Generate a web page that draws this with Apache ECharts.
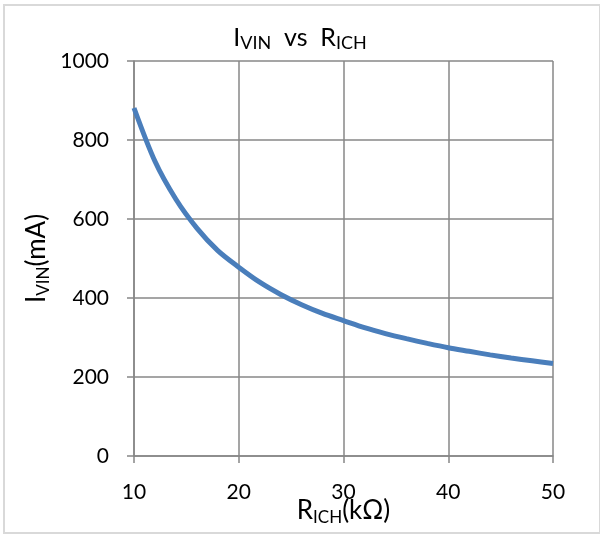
<!DOCTYPE html>
<html>
<head>
<meta charset="utf-8">
<script src="https://cdn.jsdelivr.net/npm/echarts@6/dist/echarts.min.js"></script>
<style>
html, body { margin: 0; padding: 0; background: #fff; }
#main { width: 600px; height: 538px; }
</style>
</head>
<body>
<div id="main"></div>
<script>
// R_ICH (kΩ) vs I_VIN (mA)
var rich = [10, 12, 14, 16, 18, 20, 22, 24, 26, 28, 30, 32, 34, 36, 38, 40, 42, 44, 46, 48, 50];
var ivin = [881, 746, 650, 577, 520, 478, 440, 409, 383, 361, 343, 325, 310, 297, 285, 274, 265, 256, 248, 241, 234];
var yTicks = [0, 200, 400, 600, 800, 1000];

var dom = document.getElementById("main");
var myChart = echarts.init(dom);
var fnt = 'Lato';
var gridCol = '#878787';

var nameRich = {
    n: { fontSize: 26, fontFamily: fnt, color: '#000', lineHeight: 30 },
    s: { fontSize: 17, fontFamily: fnt, color: '#000', lineHeight: 30, verticalAlign: 'bottom' }
};

var points = [];
for (var i = 0; i < rich.length; i++) {
    points.push([rich[i], ivin[i]]);
}

option = {
    animation: false,
    backgroundColor: '#fff',
    title: {
        text: '{n|I}{s|VIN}{n|  vs  R}{s|ICH}',
        left: 'center',
        top: 19,
        textStyle: {
            fontSize: 25,
            fontFamily: fnt,
            fontWeight: 'normal',
            color: '#000',
            rich: {
                n: { fontSize: 25, fontFamily: fnt, color: '#000', lineHeight: 28 },
                s: { fontSize: 18, fontFamily: fnt, color: '#000', lineHeight: 28, verticalAlign: 'bottom' }
            }
        }
    },
    graphic: [{
        type: 'rect',
        shape: { x: 4, y: 5, width: 596, height: 528 },
        style: { fill: 'none', stroke: '#d9d9d9', lineWidth: 2 },
        silent: true
    }],
    grid: {
        left: 134,
        right: 47,
        top: 61,
        bottom: 82,
        containLabel: false,
        outerBoundsMode: 'none'
    },
    xAxis: {
        type: 'value',
        min: 10,
        max: 50,
        interval: 10,
        name: '{n|R}{s|ICH}{n|(kΩ)}',
        nameLocation: 'middle',
        nameGap: 40,
        nameMoveOverlap: false,
        nameTextStyle: { fontSize: 26, fontFamily: fnt, color: '#000', rich: nameRich },
        axisLine: { show: true, lineStyle: { color: gridCol, width: 1.5 } },
        axisTick: { show: true, length: 7, lineStyle: { color: gridCol, width: 1.5 } },
        axisLabel: { fontSize: 21, fontFamily: fnt, color: '#000', margin: 26 },
        splitLine: { show: true, lineStyle: { color: gridCol, width: 1.5 } }
    },
    yAxis: {
        type: 'value',
        min: yTicks[0],
        max: yTicks[yTicks.length - 1],
        interval: 200,
        name: '{n|I}{s|VIN}{n|(mA)}',
        nameLocation: 'middle',
        nameRotate: 90,
        nameGap: 82,
        nameMoveOverlap: false,
        nameTextStyle: { fontSize: 26, fontFamily: fnt, color: '#000', rich: nameRich },
        axisLine: { show: true, lineStyle: { color: gridCol, width: 1.5 } },
        axisTick: { show: true, length: 7, lineStyle: { color: gridCol, width: 1.5 } },
        axisLabel: {
            fontSize: 21, fontFamily: fnt, color: '#000', margin: 25,
            formatter: function (v) { return String(v); }
        },
        splitLine: { show: true, lineStyle: { color: gridCol, width: 1.5 } }
    },
    series: [{
        type: 'line',
        data: points,
        smooth: 0.3,
        showSymbol: false,
        lineStyle: { color: '#4a7ebb', width: 5 },
        itemStyle: { color: '#4a7ebb' }
    }]
};

if (option && typeof option === "object") {
    myChart.setOption(option, true);
}
</script>
</body>
</html>
